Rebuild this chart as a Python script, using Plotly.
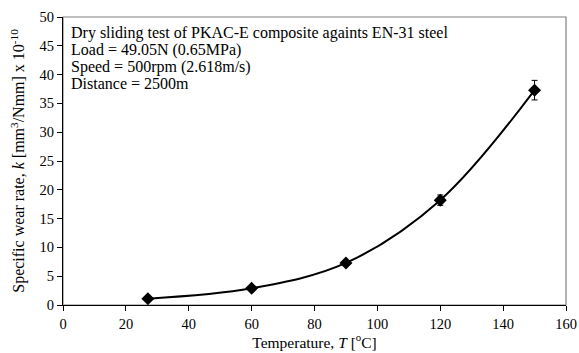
import plotly.graph_objects as go

temperature = [27, 60, 90, 120, 150]
wear_rate = [1.1, 2.9, 7.3, 18.2, 37.3]
wear_err = [0.2, 0.3, 0.4, 0.9, 1.7]

x_ticks = [0, 20, 40, 60, 80, 100, 120, 140, 160]
y_ticks = [0, 5, 10, 15, 20, 25, 30, 35, 40, 45, 50]

info_lines = [
    "Dry sliding test of PKAC-E composite againts EN-31 steel",
    "Load = 49.05N (0.65MPa)",
    "Speed = 500rpm (2.618m/s)",
    "Distance = 2500m",
]
info_y = [0.945, 0.886, 0.827, 0.768]

FONT = "Liberation Serif"

fig = go.Figure()
fig.add_trace(go.Scatter(
    x=temperature, y=wear_rate,
    mode="lines+markers",
    line=dict(color="black", width=2, shape="spline", smoothing=1.0),
    marker=dict(symbol="diamond", size=10, color="black"),
    error_y=dict(type="data", array=wear_err, visible=True, color="black", thickness=1, width=3),
    showlegend=False,
))

fig.add_shape(type="rect", xref="paper", yref="paper", x0=0, y0=0, x1=1, y1=1,
              line=dict(color="#808080", width=1.2), layer="below")

for txt, yy in zip(info_lines, info_y):
    fig.add_annotation(
        xref="paper", yref="paper", x=0.012, y=yy, xanchor="left", yanchor="middle",
        text=txt, showarrow=False, align="left",
        font=dict(family=FONT, size=16, color="black"),
    )

fig.update_layout(
    width=579, height=353,
    margin=dict(l=63, r=13, t=17, b=48, autoexpand=False),
    paper_bgcolor="white", plot_bgcolor="white",
    font=dict(family=FONT, size=14.5, color="black"),
    xaxis=dict(
        range=[0, 160], tickvals=x_ticks, ticks="outside", ticklen=5, tickcolor="black",
        showline=True, linecolor="black", linewidth=1.2, showgrid=False, zeroline=False,
        automargin=False,
        title=dict(text="Temperature, <i>T</i> [<sup>o</sup>C]", standoff=2,
                   font=dict(family=FONT, size=15.5)),
        tickfont=dict(family=FONT, size=14.5),
    ),
    yaxis=dict(
        range=[0, 50], tickvals=y_ticks, ticks="outside", ticklen=5, tickcolor="black",
        showline=True, linecolor="black", linewidth=1.2, showgrid=False, zeroline=False,
        automargin=False,
        title=dict(text="Specific wear rate, <i>k</i> [mm<sup>3</sup>/Nmm] x 10<sup>-10</sup>",
                   standoff=10, font=dict(family=FONT, size=16)),
        tickfont=dict(family=FONT, size=14.5),
    ),
)

# remove the default page margin so the figure fills the window exactly
fig.write_html("out.html",
               config={"displayModeBar": False},
               post_script="document.body.style.margin='0';document.body.style.overflow='hidden';")
